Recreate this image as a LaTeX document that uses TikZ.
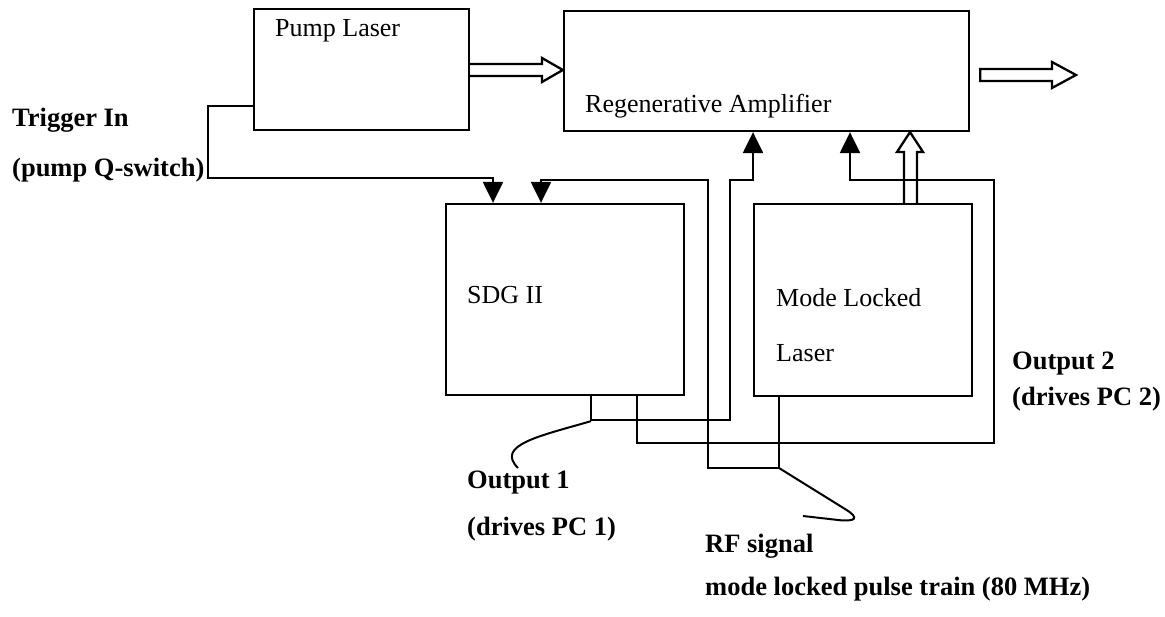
\documentclass[tikz,border=0pt]{standalone}
\usepackage{fontspec}
\setmainfont{Liberation Serif}
\usetikzlibrary{arrows.meta}
\begin{document}
\begin{tikzpicture}[x=1pt,y=-1pt,
  box/.style={draw,line width=2.3pt,inner sep=0pt,fill=none},
  wire/.style={line width=2.3pt,line join=miter},
  tip/.style={-{Triangle[length=21pt,width=20pt]}},
  fat/.style={line width=2.3pt,line join=miter},
  txt/.style={anchor=base west,inner sep=0pt,font=\fontsize{26}{30}\selectfont},
  btxt/.style={txt,font=\fontsize{26.5}{30}\selectfont\bfseries}]
\useasboundingbox (0,0) rectangle (1165,617);
% boxes
\node[box,minimum width=215pt,minimum height=121pt] (pump) at (361.5,69.5) {};
\node[box,minimum width=405pt,minimum height=120pt] (regen) at (766.5,71) {};
\node[box,minimum width=238pt,minimum height=191pt] (sdg) at (565,299.5) {};
\node[box,minimum width=218pt,minimum height=192pt] (ml) at (863,300) {};
% box texts
\node[txt] (tpump) at (275,37) {Pump Laser};
\node[txt] (tregen) at (585,113) {Regenerative Amplifier};
\node[txt] (tsdg) at (467,304) {SDG II};
\node[txt] (tml1) at (776,307) {Mode Locked};
\node[txt] (tml2) at (776,362) {Laser};
% labels
\node[btxt] (ltrig1) at (12,127) {Trigger In};
\node[btxt] (ltrig2) at (12,177) {(pump Q-switch)};
\node[btxt] (lout1a) at (467,489) {Output 1};
\node[btxt] (lout1b) at (467,535) {(drives PC 1)};
\node[btxt] (lrf1) at (705,552) {RF signal};
\node[btxt] (lrf2) at (705,595) {mode locked pulse train (80 MHz)};
\node[btxt] (lout2a) at (1012,370) {Output 2};
\node[btxt] (lout2b) at (1012,406) {(drives PC 2)};
% trigger
\draw[wire,tip] (pump.west |- 0,106) -- (208,106) |- (493,178) -- (sdg.north -| 493,0);
% RF signal to SDG
\draw[wire,tip] (ml.south -| 779,0) |- (708,468) |- (541,180) -- (sdg.north -| 541,0);
% output 1
\draw[wire,tip] (sdg.south -| 591,0) |- (730,420) |- (753,180) -- (regen.south -| 753,0);
% output 2
\draw[wire,tip] (sdg.south -| 637,0) |- (994,443) |- (850,180) -- (regen.south -| 850,0);
% open arrows
\draw[fat] (pump.east |- 0,64) -- (542,64) -- (542,58) -- (regen.west |- 0,70) -- (542,82) -- (542,76) -- (pump.east |- 0,76);
\draw[fat] (ml.north -| 904,0) -- (904,152) -- (897,152) -- (regen.south -| 910,0) -- (923,152) -- (917,152) -- (ml.north -| 917,0);
\coordinate (outtip) at (1076,75);
\draw[fat] ([xshift=10pt]regen.east |- 0,69) -- (1052,69) -- (1052,62) -- (outtip) -- (1052,88) -- (1052,81) -- ([xshift=10pt]regen.east |- 0,81) -- cycle;
% leader curves
\draw[line width=2pt] (sdg.south -| 591,0) ++(0,25) .. controls (540,436) and (495,445) .. (518,468);
\draw[line width=2pt] (779,468) -- (845,509) .. controls (860,518) and (856,522) .. (838,520) -- (803,516);
\end{tikzpicture}
\end{document}
